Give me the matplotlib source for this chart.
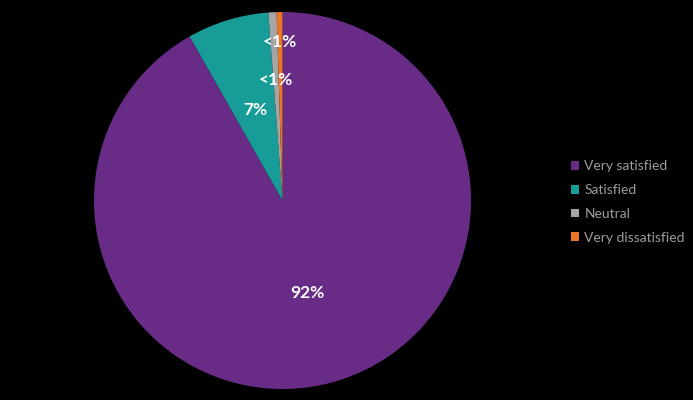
import matplotlib
matplotlib.use("Agg")
import numpy as np
import matplotlib.pyplot as plt
from matplotlib.patches import Patch

categories = ["Very satisfied", "Satisfied", "Neutral", "Very dissatisfied"]
shares = [91.8, 7.0, 0.7, 0.5]
labels = ["92%", "7%", "<1%", "<1%"]
colors = ["#682C87", "#179C98", "#A5A5A5", "#E8772A"]
label_radius = [0.51, 0.5, 0.64, 0.84]

plt.rcParams["font.family"] = ["Lato", "DejaVu Sans"]

fig = plt.figure(figsize=(6.93, 4.0), dpi=100, facecolor="black")
r_px = 188.5
cx, cy = 282.5, 400 - 200.5
ax = fig.add_axes([(cx - r_px) / 693, (cy - r_px) / 400, 2 * r_px / 693, 2 * r_px / 400])
ax.set_facecolor("black")

wedges, _ = ax.pie(shares, colors=colors, startangle=90, counterclock=False,
                   wedgeprops=dict(linewidth=0))
ax.set_xlim(-1, 1)
ax.set_ylim(-1, 1)
ax.set_aspect("equal")
ax.axis("off")

for w, lab, rr in zip(wedges, labels, label_radius):
    mid = np.deg2rad((w.theta1 + w.theta2) / 2)
    ax.text(rr * np.cos(mid), rr * np.sin(mid), lab, ha="center", va="center",
            color="white", fontsize=12.5, fontweight="bold")

handles = [Patch(facecolor=c, edgecolor="none") for c in colors]
leg = fig.legend(handles, categories, loc="center left", bbox_to_anchor=(565 / 693, 0.495),
                 frameon=False, fontsize=10, labelcolor="#9C9C9C",
                 handlelength=0.6, handleheight=0.6, handletextpad=0.4,
                 labelspacing=0.85, borderaxespad=0)

fig.savefig("out.png", dpi=100, facecolor="black")
